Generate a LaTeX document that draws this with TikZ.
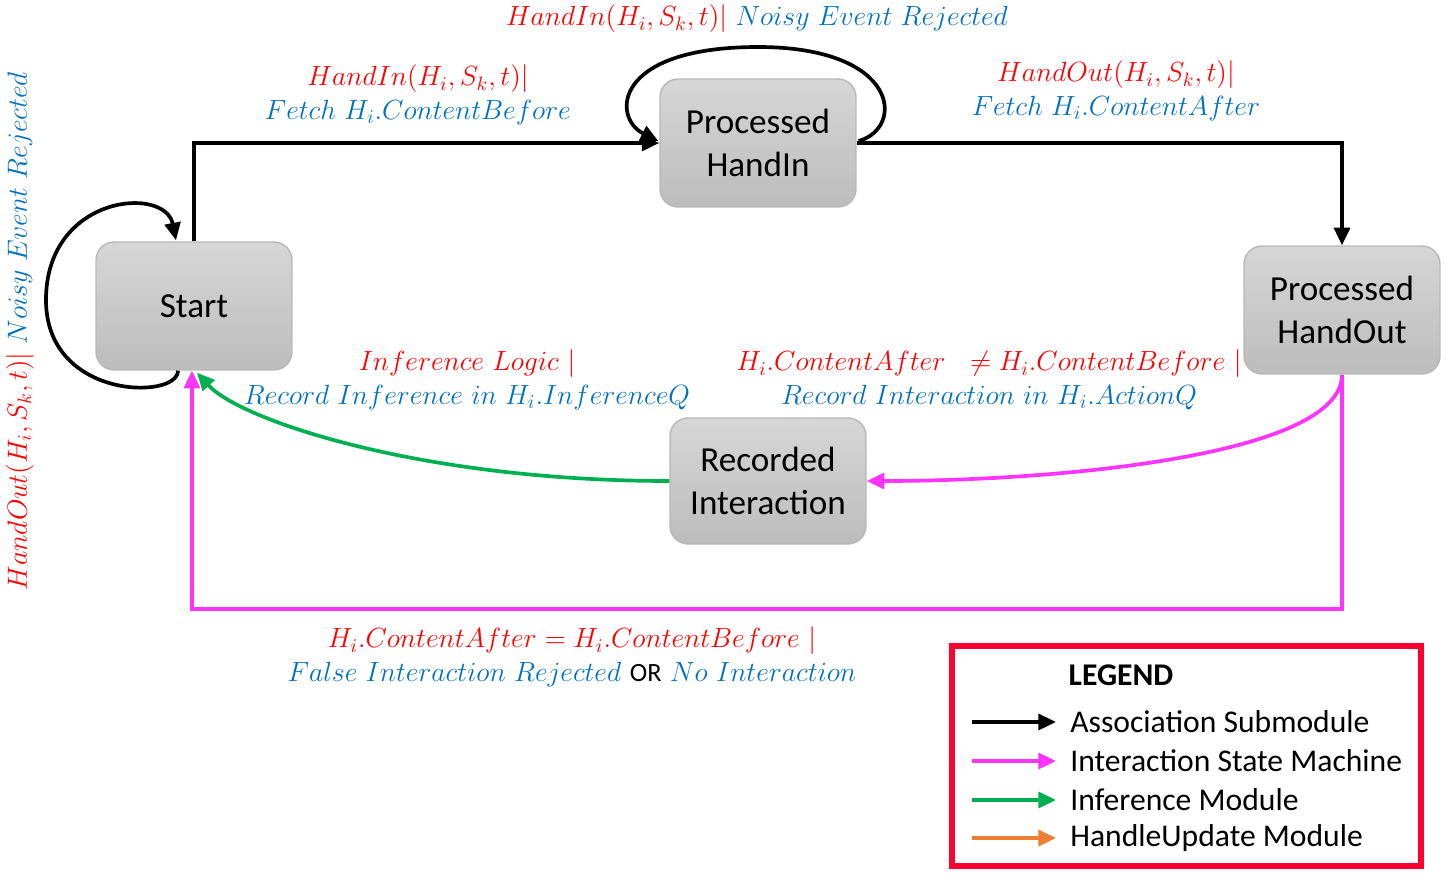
\RequirePackage{fix-cm}
\documentclass[tikz,border=0pt]{standalone}
\usepackage{fontspec}
\setsansfont{Carlito}
\usetikzlibrary{arrows.meta,calc}

\definecolor{lblRed}{RGB}{255,0,0}
\definecolor{lblBlue}{RGB}{0,112,192}
\definecolor{ismPink}{RGB}{255,51,255}
\definecolor{infGreen}{RGB}{0,176,80}
\definecolor{updOrange}{RGB}{237,125,49}
\definecolor{legRed}{RGB}{255,0,51}

\tikzset{
    state/.style={rounded corners=0.36cm, top color=black!16, bottom color=black!26,
        draw=black!28, line width=0.8pt, minimum width=3.92cm, minimum height=2.56cm,
        align=center, font=\sffamily\fontsize{20}{24}\selectfont},
    lbl/.style={align=center, font=\fontsize{15.8}{19.2}\selectfont, inner sep=0pt},
    legtext/.style={anchor=west, inner sep=0pt, font=\sffamily\fontsize{18}{22}\selectfont},
    tip/.style={-{Triangle[length=10pt,width=9pt]}},
    assoc/.style={draw=black, line width=2.1pt, tip},
    ism/.style={draw=ismPink, line width=2.1pt, tip},
    infer/.style={draw=infGreen, line width=2.1pt, tip},
    upd/.style={draw=updOrange, line width=2.1pt, tip}
  }

\begin{document}
\begin{tikzpicture}[x=0.02cm, y=-0.02cm]
    \useasboundingbox (0,0) rectangle (1447,876);

    \node[state] (start) at (194,306) {Start};
    \node[state] (hin) at (758,143) {Processed\\HandIn};
    \node[state] (hout) at (1342,310) {Processed\\HandOut};
    \node[state, minimum height=2.52cm] (rec) at (768,481) {Recorded\\Interaction};

    % association submodule
    \draw[assoc] (start.north) |- (hin.west);
    \draw[assoc] (hin.east) -| (hout.north);
    \draw[assoc] ($(hin.east)+(2,-2)$) .. controls (905,128) and (900,47) .. (758,47)
        .. controls (612,47) and (612,118) .. ($(hin.west)+(-1,-2)$);
    \draw[assoc] ($(start.south)+(-16,0)$) .. controls (178,400) and (46,400) .. (46,300)
        .. controls (46,195) and (165,185) .. ($(start.north)+(-18,-1)$);

    % interaction state machine + inference
    \draw[ism] (hout.south) .. controls (1342,455) and (1060,481) .. (rec.east);
    \draw[ism] (hout.south) -- ++(0,234) -| ($(start.south)+(-2,0)$);
    \draw[infer] (rec.west) .. controls (420,481) and (240,420) .. ($(start.south)+(3,2)$);

    % labels
    \node[lbl] (loopHin) at (757,19) {\color{lblRed}$HandIn(H_i,S_k,t)|$ \color{lblBlue}$Noisy\ Event\ Rejected$};
    \node[lbl] (toHin) at (418,95) {\color{lblRed}$HandIn(H_i,S_k,t)|$\\\color{lblBlue}$Fetch\ H_i.ContentBefore$};
    \node[lbl] (toHout) at (1116,91) {\color{lblRed}$HandOut(H_i,S_k,t)|$\\\color{lblBlue}$Fetch\ H_i.ContentAfter$};
    \node[lbl, rotate=90] (loopStart) at (20,331) {\color{lblRed}$HandOut(H_i,S_k,t)|$ \color{lblBlue}$Noisy\ Event\ Rejected$};
    \node[lbl] (toStart) at (467,380) {\color{lblRed}$Inference\ Logic\ |$\\\color{lblBlue}$Record\ Inference\ in\ H_i.InferenceQ$};
    \node[lbl] (toRec) at (989,380) {\color{lblRed}$H_i.ContentAfter\ \ \neq H_i.ContentBefore\ |$\\\color{lblBlue}$Record\ Interaction\ in\ H_i.ActionQ$};
    \node[lbl] (backStart) at (572,657) {\color{lblRed}$H_i.ContentAfter = H_i.ContentBefore\ |$\\\color{lblBlue}$False\ Interaction\ Rejected$ {\color{black}\sffamily\fontsize{15}{18}\selectfont OR} $No\ Interaction$};

    % legend
    \draw[legRed, line width=3.4pt] (952,646) rectangle (1421,866);
    \node[inner sep=0pt, font=\sffamily\bfseries\fontsize{18}{22}\selectfont] (legTitle) at (1121,675) {LEGEND};
    \node[legtext] (lg1) at (1070,722) {Association Submodule};
    \node[legtext] (lg2) at (1070,761) {Interaction State Machine};
    \node[legtext] (lg3) at (1070,800) {Inference Module};
    \node[legtext] (lg4) at (1070,838) {HandleUpdate Module};
    \draw[assoc] ($(lg1.west)+(-98,0)$) -- ($(lg1.west)+(-14,0)$);
    \draw[ism] ($(lg2.west)+(-98,0)$) -- ($(lg2.west)+(-14,0)$);
    \draw[infer] ($(lg3.west)+(-98,0)$) -- ($(lg3.west)+(-14,0)$);
    \draw[upd] ($(lg4.west)+(-98,0)$) -- ($(lg4.west)+(-14,0)$);
\end{tikzpicture}
\end{document}
